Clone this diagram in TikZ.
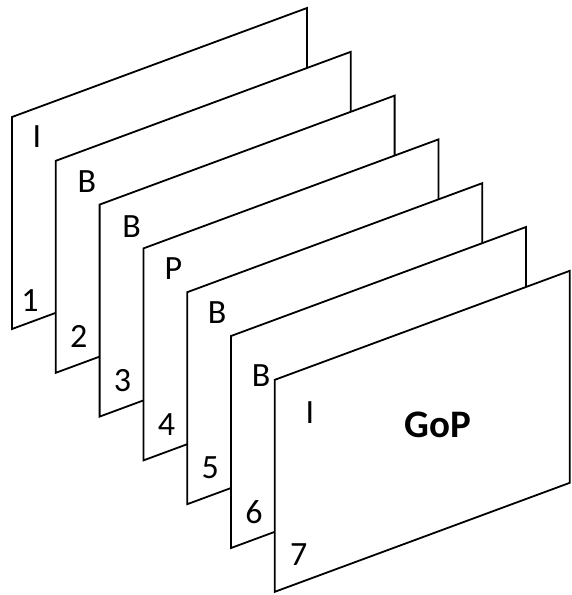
\documentclass[tikz,border=0pt]{standalone}
\usepackage{fontspec}
\setmainfont{Carlito}
\tikzset{frm/.style={draw,fill=white,line width=1.8pt,line join=miter},
  lbl/.style={font=\fontsize{34}{34}\selectfont,inner sep=0pt}}

\begin{document}
\begin{tikzpicture}[x=1pt,y=-1pt]
  \path[use as bounding box] (0,0) rectangle (571,595);
  % frames from back to front, letter and number offsets per frame
  \foreach \i/\fr/\tx/\ty/\nx/\ny in {1/I/25/20/18/-28,2/B/31/21/23/-36,
      3/B/32/22/23/-36,4/P/30/20/23/-36,5/B/30/20/23/-36,6/B/30/40/23/-36,
      7/I/35/33/24/-37}{
    \pgfmathsetmacro{\ox}{12+43.8*(\i-1)}
    \pgfmathsetmacro{\oy}{117+43.8*(\i-1)}
    \draw[frm] (\ox,\oy) -- ++(295,-109) -- ++(0,212) -- ++(-295,109) -- cycle;
    \node[lbl] (t\i) at (\ox+\tx,\oy+\ty) {\fr};
    \node[lbl] (n\i) at (\ox+\nx,\oy+212+\ny) {\i};
  }
  \node[lbl,font=\fontsize{39}{39}\selectfont\bfseries] (gop) at (438,425) {GoP};
\end{tikzpicture}
\end{document}
